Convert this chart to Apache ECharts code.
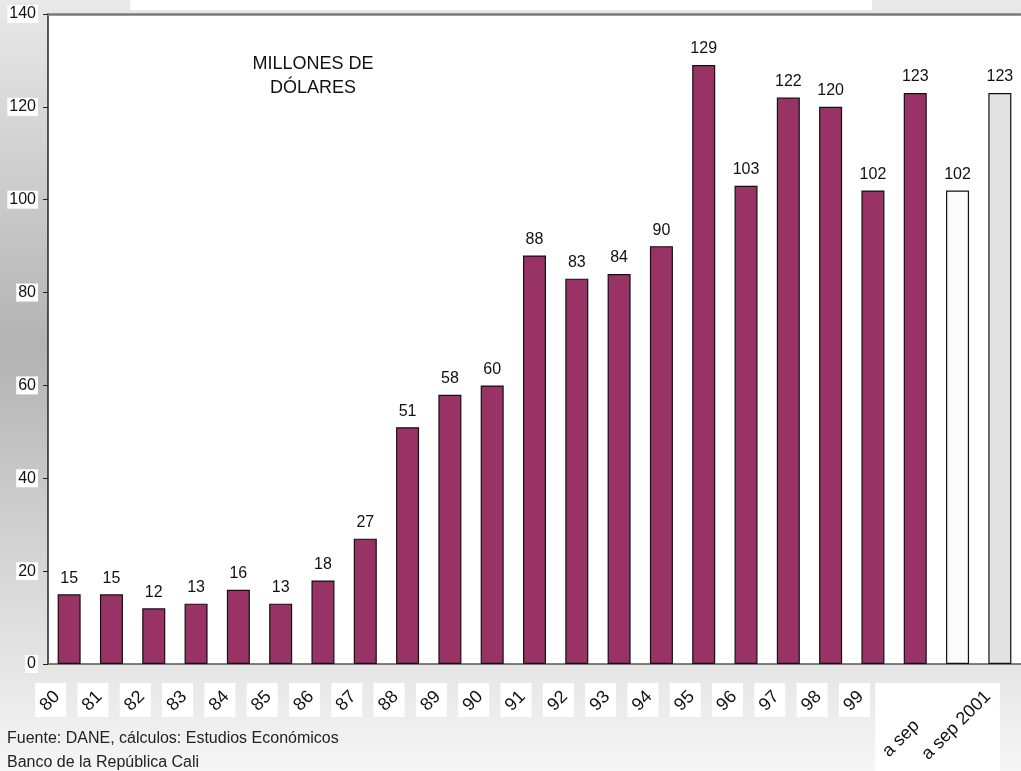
<!DOCTYPE html>
<html>
<head>
<meta charset="utf-8">
<script src="https://cdn.jsdelivr.net/npm/echarts@6/dist/echarts.min.js"></script>
<style>
  html, body { margin: 0; padding: 0; }
  #chart {
    width: 1021px;
    height: 771px;
    background: linear-gradient(to bottom, #e9e9e9 0%, #b3b3b3 45%, #f6f6f6 100%);
  }
</style>
</head>
<body>
<div id="chart"></div>
<script>
// años (etiquetas del eje x)
const categories = ['80', '81', '82', '83', '84', '85', '86', '87', '88', '89',
  '90', '91', '92', '93', '94', '95', '96', '97', '98', '99', '', 'a sep', 'a sep 2001']
// millones de dólares
const values = [15, 15, 12, 13, 16, 13, 18, 27, 51, 58,
  60, 88, 83, 84, 90, 129, 103, 122, 120, 102, 123, 102, 123]
const yMin = 0
const yMax = 140
const yStep = 20

const FONT = 'Liberation Sans, Arial, sans-serif'
const MAROON = '#993366'

const chart = echarts.init(document.getElementById('chart'))

const barColor = (i) => {
  if (i === categories.length - 2) return '#fbfbfb'
  if (i === categories.length - 1) return '#e2e2e2'
  return MAROON
}

chart.setOption({
  animation: false,
  textStyle: { fontFamily: FONT },
  grid: {
    left: 48, top: 14, width: 977, height: 650,
    show: true, backgroundColor: '#fff', borderWidth: 0,
  },
  xAxis: [
    {
      type: 'category',
      data: categories,
      axisLine: { lineStyle: { color: '#555', width: 1.5 } },
      axisTick: { show: false },
      axisLabel: {
        interval: 0,
        rotate: 45,
        margin: 18,
        color: '#111',
        fontSize: 18,
        fontFamily: FONT,
        formatter: (v) => v === 'a sep' ? '{w|' + v + '}' : '{n|' + v + '}',
        rich: {
          n: { fontSize: 18, fontFamily: FONT, color: '#111', padding: [0, 17, 0, 0] },
          w: { fontSize: 18, fontFamily: FONT, color: '#111', padding: [0, 58, 0, 0] },
        },
      },
    },
    {
      // borde superior del área del gráfico
      type: 'category',
      position: 'top',
      data: categories,
      axisLine: { lineStyle: { color: '#7a7a7a', width: 2.5 } },
      axisTick: { show: false },
      axisLabel: { show: false },
    },
  ],
  yAxis: {
    type: 'value',
    min: yMin,
    max: yMax,
    interval: yStep,
    axisLine: { show: true, lineStyle: { color: '#222', width: 1.5 } },
    axisTick: { show: true, length: 5, lineStyle: { color: '#222' } },
    splitLine: { show: false },
    axisLabel: {
      margin: 10,
      color: '#111',
      fontSize: 16,
      fontFamily: FONT,
      backgroundColor: '#fff',
      padding: [1, 2, 1, 2],
    },
  },
  series: [
    {
      type: 'bar',
      barWidth: 23,
      data: values.map((v, i) => ({
        value: v,
        itemStyle: { color: barColor(i), borderColor: '#111', borderWidth: 1.2 },
      })),
      label: {
        show: true,
        position: 'top',
        distance: 8,
        color: '#111',
        fontSize: 16,
        fontFamily: FONT,
      },
    },
  ],
})

// recuadros blancos de las etiquetas y textos sueltos
const boxes = []
categories.forEach((c, i) => {
  if (i >= 20) return
  const x = chart.convertToPixel({ xAxisIndex: 0 }, i)
  boxes.push({
    type: 'rect', z: -5, silent: true,
    shape: { x: x - 34, y: 683, width: 31, height: 34 },
    style: { fill: '#fff' },
  })
})
const x20 = chart.convertToPixel({ xAxisIndex: 0 }, 20)
const x22 = chart.convertToPixel({ xAxisIndex: 0 }, 22)
boxes.push({
  type: 'rect', z: -5, silent: true,
  shape: { x: x20 - 40, y: 683, width: x22 - (x20 - 40), height: 100 },
  style: { fill: '#fff' },
})

chart.setOption({
  graphic: [
    {
      type: 'rect', z: -5, silent: true,
      shape: { x: 130, y: 0, width: 742, height: 10 },
      style: { fill: '#fff' },
    },
    ...boxes,
    {
      type: 'text', left: 313 - 63, top: 52,
      style: {
        text: 'MILLONES DE\nDÓLARES', fill: '#111', font: '18px ' + FONT,
        textAlign: 'center', width: 126, lineHeight: 24,
      },
    },
    {
      type: 'text', left: 7, top: 727,
      style: {
        text: 'Fuente: DANE, cálculos: Estudios Económicos\nBanco de la República Cali',
        fill: '#222', font: '16px ' + FONT, lineHeight: 24,
      },
    },
  ],
})
</script>
</body>
</html>
